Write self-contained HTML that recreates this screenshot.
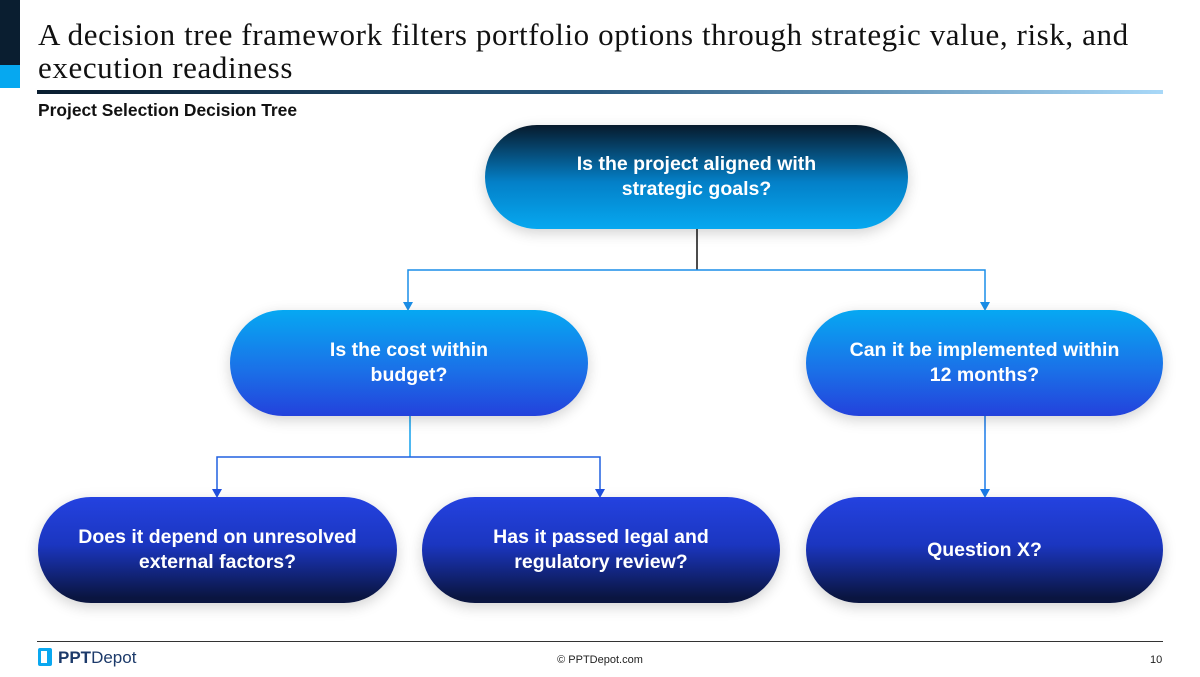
<!DOCTYPE html>
<html><head><meta charset="utf-8"><style>
body{margin:0;width:1200px;height:677px;background:#fff;position:relative;overflow:hidden;font-family:"Liberation Sans",sans-serif}
.n{position:absolute;border-radius:53px;color:#fff;font-weight:bold;font-size:19.5px;line-height:25px;display:flex;align-items:center;justify-content:center;text-align:center;box-shadow:0 4px 14px rgba(0,0,0,0.18)}
.t{background:linear-gradient(#071a2c,#0480c8 55%,#06a8f0)}
.m{background:linear-gradient(#06a8f2,#1a72e8 55%,#2342dc)}
.b{background:linear-gradient(#2442e0,#1b36c0 45%,#0a1540 95%)}
</style></head><body>
<div style="position:absolute;left:0;top:0;width:20px;height:65px;background:#0a1e30"></div>
<div style="position:absolute;left:0;top:65px;width:20px;height:23px;background:#06a8f0"></div>
<div style="position:absolute;left:38px;top:18px;font-family:'Liberation Serif',serif;font-size:31px;letter-spacing:0.6px;line-height:33px;color:#111;white-space:nowrap">A decision tree framework filters portfolio options through strategic value, risk, and<br>execution readiness</div>
<div style="position:absolute;left:37px;top:90px;width:1126px;height:4px;background:linear-gradient(90deg,#0a1e30,#2a5a80 50%,#a8d8f8)"></div>
<div style="position:absolute;left:38px;top:100px;font-size:17.4px;font-weight:bold;color:#111">Project Selection Decision Tree</div>
<svg width="1200" height="677" style="position:absolute;left:0;top:0">
<line x1="697" y1="229" x2="697" y2="270" stroke="#111" stroke-width="1.5"/>
<path d="M408,304 V270 H985 V304" fill="none" stroke="#1a8ee8" stroke-width="1.5"/>
<path d="M403,302 L413,302 L408,311z" fill="#1a8ee8"/>
<path d="M980,302 L990,302 L985,311z" fill="#1a8ee8"/>
<line x1="410" y1="416" x2="410" y2="457" stroke="#12a0ec" stroke-width="1.5"/>
<path d="M217,490 V457 H600 V490" fill="none" stroke="#2060e0" stroke-width="1.5"/>
<path d="M212,489 L222,489 L217,498z" fill="#2050e0"/>
<path d="M595,489 L605,489 L600,498z" fill="#2050e0"/>
<path d="M985,416 V490" stroke="#1a7ae8" stroke-width="1.5"/>
<path d="M980,489 L990,489 L985,498z" fill="#1a7ae8"/>
</svg>
<div class="n t" style="left:485px;top:125px;width:423px;height:104px">Is the project aligned with<br>strategic goals?</div>
<div class="n m" style="left:230px;top:310px;width:358px;height:106px">Is the cost within<br>budget?</div>
<div class="n m" style="left:806px;top:310px;width:357px;height:106px">Can it be implemented within<br>12 months?</div>
<div class="n b" style="left:38px;top:497px;width:359px;height:106px">Does it depend on unresolved<br>external factors?</div>
<div class="n b" style="left:422px;top:497px;width:358px;height:106px">Has it passed legal and<br>regulatory review?</div>
<div class="n b" style="left:806px;top:497px;width:357px;height:106px">Question X?</div>
<div style="position:absolute;left:37px;top:641px;width:1126px;height:1px;background:#333"></div>
<div style="position:absolute;left:38px;top:648px;width:14px;height:18px;border:3px solid #0aa8f0;border-radius:2px;box-sizing:border-box;border-right-width:5px"></div>
<div style="position:absolute;left:58px;top:648px;font-size:17px;color:#1c3a6a"><b>PPT</b>Depot</div>
<div style="position:absolute;left:0;width:1200px;top:654px;text-align:center;font-size:11px;color:#222">© PPTDepot.com</div>
<div style="position:absolute;left:1150px;top:654px;font-size:11px;color:#222">10</div>
</body></html>
